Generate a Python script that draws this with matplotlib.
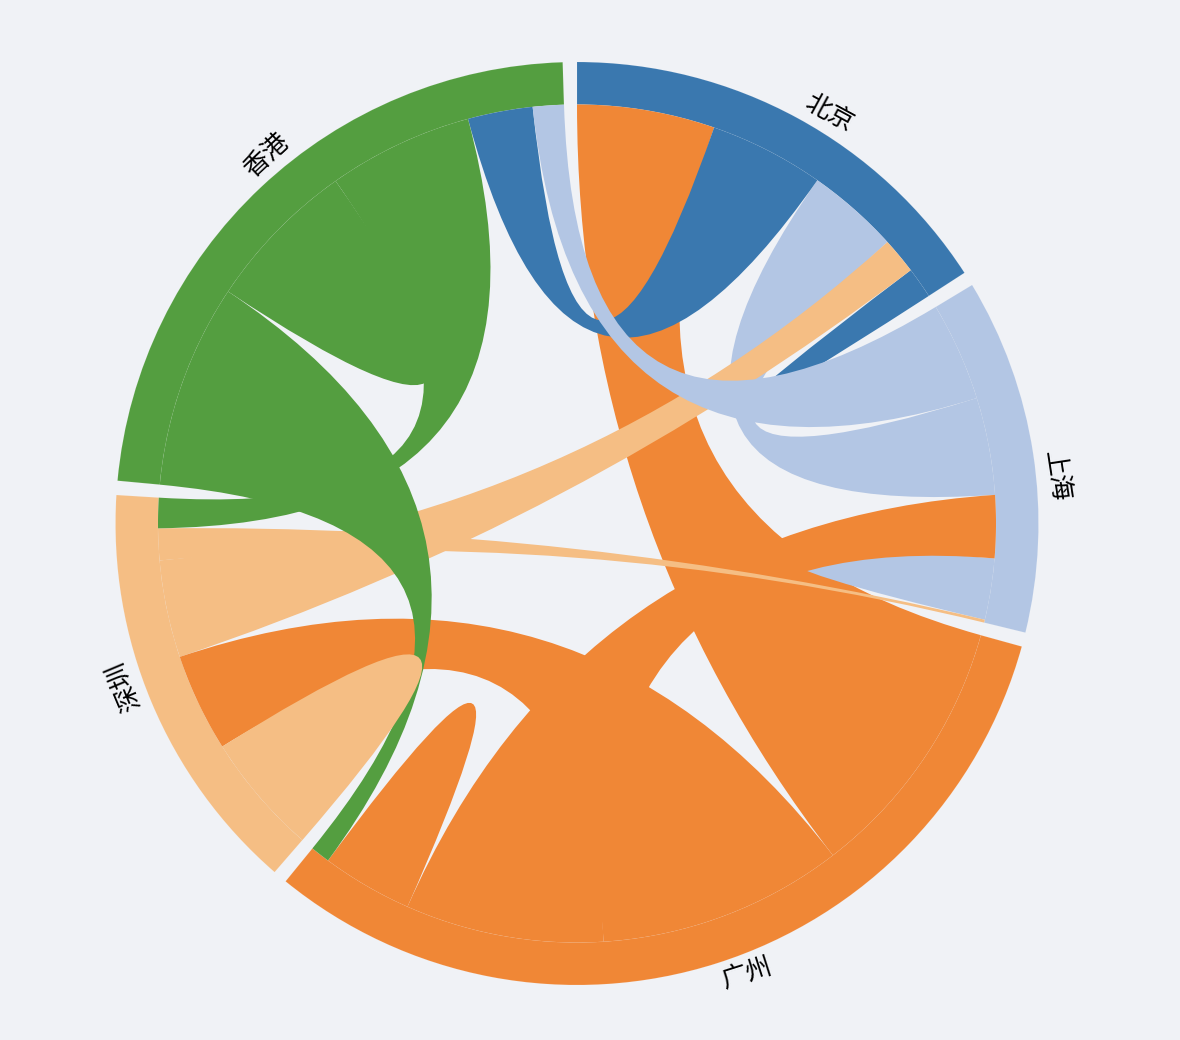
import numpy as np
import matplotlib.pyplot as plt
from matplotlib.path import Path
from matplotlib.patches import PathPatch, Wedge

plt.rcParams['font.family'] = ['Noto Sans CJK SC', 'DejaVu Sans']

CITIES = ["北京", "上海", "广州", "深圳", "香港"]
COLORS = ["#3a78af", "#b3c6e4", "#f08736", "#f5be84", "#549e40"]
# one row per city, columns in CITIES order (flow from row city to column city)
BEIJING = [4.3, 12.8, 19.1, 5.0, 15.9]
SHANGHAI = [13.5, 8.5, 8.7, 0.4, 13.7]
GUANGZHOU = [36.9, 27.5, 12.6, 34.0, 2.7]
SHENZHEN = [13.5, 4.4, 13.6, 16.9, 4.2]
HONGKONG = [9.0, 4.3, 28.3, 20.1, 21.2]

BG = "#f0f2f6"
PAD = 1.78  # degrees between groups
R_IN = 419
R_OUT = 461.5
R_LABEL = 481


def _layout(matrix, pad):
    n = len(matrix)
    k = (360 - pad * n) / matrix.sum()
    groups, subs = [], {}
    x = 0.0
    for i in range(n):
        x0 = x
        order = sorted(range(n), key=lambda j: -matrix[i][j])
        for j in order:
            dx = matrix[i][j] * k
            subs[(i, j)] = (x, x + dx)
            x += dx
        groups.append((x0, x))
        x += pad
    return groups, subs


def _pt(theta, r):
    t = np.radians(theta)
    return (r * np.sin(t), r * np.cos(t))


def _arc(a0, a1, r, num=80):
    return [_pt(t, r) for t in np.linspace(a0, a1, num)]


def _ribbon(s, t, r):
    verts = _arc(s[0], s[1], r)
    codes = [Path.MOVETO] + [Path.LINETO] * (len(verts) - 1)
    if s != t:
        verts += [(0, 0), _pt(t[0], r)]
        codes += [Path.CURVE3] * 2
        arc = _arc(t[0], t[1], r)[1:]
        verts += arc
        codes += [Path.LINETO] * len(arc)
    verts += [(0, 0), _pt(s[0], r)]
    codes += [Path.CURVE3] * 2
    verts.append((0, 0))
    codes.append(Path.CLOSEPOLY)
    return Path(verts, codes)


def _main():
    matrix = np.array([BEIJING, SHANGHAI, GUANGZHOU, SHENZHEN, HONGKONG])
    n = len(matrix)
    groups, subs = _layout(matrix, PAD)

    fig = plt.figure(figsize=(11.8, 10.4), dpi=100, facecolor=BG)
    ax = fig.add_axes([0, 0, 1, 1])
    ax.set_facecolor(BG)
    ax.set_xlim(-577, 603)
    ax.set_ylim(-516.5, 523.5)
    ax.axis("off")

    for i, (g0, g1) in enumerate(groups):
        ax.add_patch(Wedge((0, 0), R_OUT, 90 - g1, 90 - g0, width=R_OUT - R_IN,
                           facecolor=COLORS[i], edgecolor=(1, 1, 1, 0.12), linewidth=0.5))

    for i in range(n):
        for j in range(i, n):
            src, tgt = (j, i), (i, j)
            if matrix[j][i] < matrix[i][j]:
                src, tgt = tgt, src
            path = _ribbon(subs[src], subs[tgt], R_IN)
            ax.add_patch(PathPatch(path, facecolor=COLORS[src[0]], edgecolor="none"))

    for i, (g0, g1) in enumerate(groups):
        mid = (g0 + g1) / 2
        rot = ((-mid + 180) % 360) - 180
        if rot < -90:
            rot += 180
        x, y = _pt(mid, R_LABEL)
        ax.text(x, y, CITIES[i], rotation=rot, rotation_mode="anchor", ha="left",
                va="center", fontsize=18.5, color="black")

    fig.savefig("out.png", dpi=100, facecolor=BG)


if __name__ == "__main__":
    _main()
